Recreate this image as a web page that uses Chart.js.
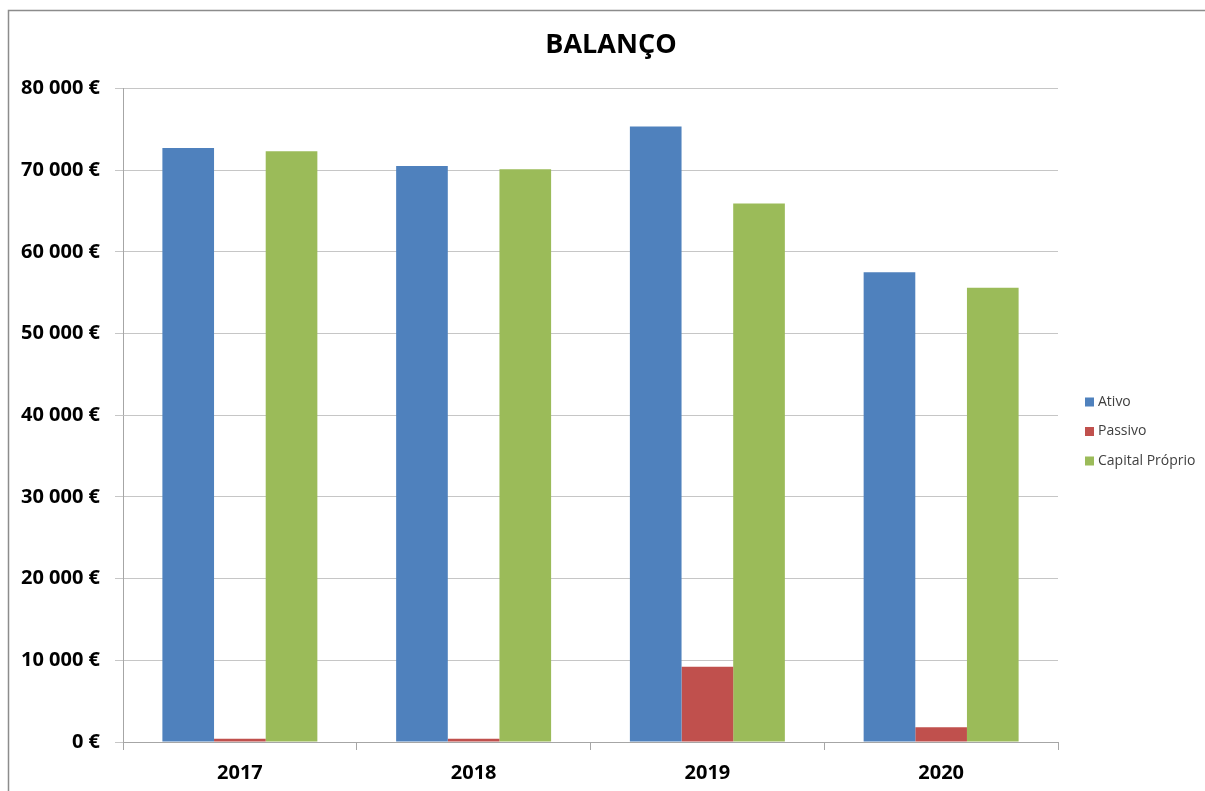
<!DOCTYPE html>
<html>
<head>
<meta charset="utf-8">
<script src="https://cdn.jsdelivr.net/npm/chart.js@4/dist/chart.umd.min.js"></script>
<style>
  html, body { margin: 0; padding: 0; background: #ffffff; }
  #wrap { position: relative; width: 1205px; height: 791px; }
  canvas { display: block; }
</style>
</head>
<body>
<div id="wrap"><canvas id="c" width="1205" height="791"></canvas></div>
<script>
const categories = ['2017', '2018', '2019', '2020'];
const ativo = [72700, 70500, 75350, 57500];
const passivo = [400, 400, 9200, 1800];
const capitalProprio = [72300, 70100, 65900, 55600];
const seriesNames = ['Ativo', 'Passivo', 'Capital Próprio'];
const seriesColors = ['#4F81BD', '#C0504D', '#9BBB59'];
const yTicks = [0, 10000, 20000, 30000, 40000, 50000, 60000, 70000, 80000];

const FONT = "'Open Sans', 'DejaVu Sans', sans-serif";

function fmtEuro(v) {
  const s = String(Math.round(v)).replace(/\B(?=(\d{3})+(?!\d))/g, ' ');
  return s + ' €';
}

const framePlugin = {
  id: 'frame',
  beforeDraw(chart) {
    const ctx = chart.ctx;
    ctx.save();
    ctx.fillStyle = '#ffffff';
    ctx.fillRect(0, 0, chart.width, chart.height);
    ctx.strokeStyle = '#8c8c8c';
    ctx.lineWidth = 1.5;
    ctx.beginPath();
    ctx.moveTo(8.5, chart.height);
    ctx.lineTo(8.5, 10.5);
    ctx.lineTo(chart.width, 10.5);
    ctx.stroke();
    ctx.restore();
  }
};

const legendPlugin = {
  id: 'sideLegend',
  afterDraw(chart) {
    const ctx = chart.ctx;
    ctx.save();
    ctx.font = "14px " + FONT;
    ctx.textBaseline = 'middle';
    ctx.textAlign = 'left';
    const x0 = 1085, y0 = 402, step = 29.5, box = 9;
    chart.data.datasets.forEach((ds, i) => {
      const y = y0 + i * step;
      ctx.fillStyle = ds.backgroundColor;
      ctx.fillRect(x0, y - box / 2, box, box);
      ctx.fillStyle = '#404040';
      ctx.fillText(ds.label, x0 + 13, y);
    });
    ctx.restore();
  }
};

const seriesData = [ativo, passivo, capitalProprio];

new Chart(document.getElementById('c'), {
  type: 'bar',
  data: {
    labels: categories,
    datasets: seriesNames.map((name, i) => ({
      label: name,
      data: seriesData[i],
      backgroundColor: seriesColors[i],
      borderWidth: 0,
      barPercentage: 1.0,
      categoryPercentage: 0.663
    }))
  },
  options: {
    responsive: false,
    animation: false,
    devicePixelRatio: 1,
    layout: { padding: { left: 17, right: 0, top: 0, bottom: 0 } },
    plugins: {
      legend: { display: false },
      tooltip: { enabled: false },
      title: {
        display: true,
        text: 'BALANÇO',
        color: '#000000',
        font: { family: FONT, size: 27, weight: 'bold' },
        padding: { top: 29, bottom: 27 }
      }
    },
    scales: {
      x: {
        offset: true,
        afterFit(scale) { scale.height = 49; },
        grid: {
          offset: true,
          drawOnChartArea: false,
          drawTicks: true,
          tickLength: 8,
          color: '#A6A6A6'
        },
        border: { display: true, color: '#A6A6A6', width: 1 },
        ticks: {
          color: '#000000',
          padding: 11,
          font: { family: FONT, size: 20, weight: 'bold' }
        }
      },
      y: {
        min: 0,
        max: 80000,
        afterFit(scale) { scale.width = 106; },
        afterBuildTicks(scale) { scale.ticks = yTicks.map(v => ({ value: v })); },
        grid: {
          color: '#C6C6C6',
          drawTicks: true,
          tickLength: 8,
          lineWidth: 1
        },
        border: { display: true, color: '#A6A6A6', width: 1 },
        ticks: {
          color: '#000000',
          padding: 15,
          font: { family: FONT, size: 20, weight: 'bold' },
          callback: (v) => fmtEuro(v)
        }
      },
      legendSpace: {
        type: 'linear',
        position: 'right',
        display: true,
        afterFit(scale) { scale.width = 147; },
        grid: { display: false, drawOnChartArea: false },
        border: { display: false },
        ticks: { display: false }
      }
    }
  },
  plugins: [framePlugin, legendPlugin]
});
</script>
</body>
</html>
